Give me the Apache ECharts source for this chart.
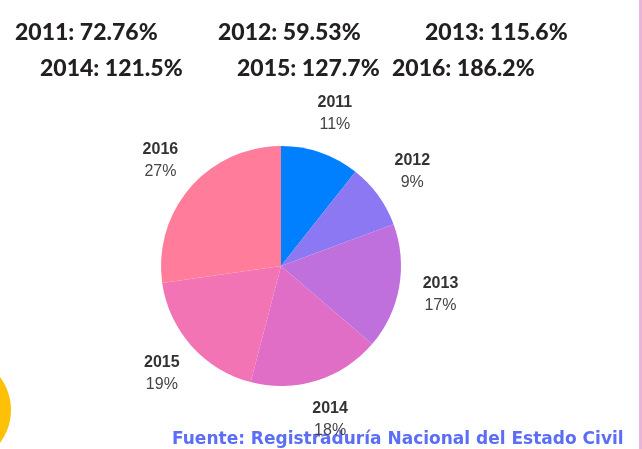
<!DOCTYPE html>
<html>
<head>
<meta charset="utf-8">
<script src="https://cdn.jsdelivr.net/npm/echarts@6/dist/echarts.min.js"></script>
<style>
html,body{margin:0;padding:0;background:#fff;}
#main{width:642px;height:449px;}
</style>
</head>
<body>
<div id="main"></div>
<script>
// datos
var years = ['2011','2012','2013','2014','2015','2016'];
var values = [72.76, 59.53, 115.6, 121.5, 127.7, 186.2];
var valueText = ['72.76%','59.53%','115.6%','121.5%','127.7%','186.2%'];
var colors = ['#0080ff','#8b78f2','#bf70dd','#e06dc6','#f274b4','#ff7d9b'];

var fuente = 'Fuente: Registraduría Nacional del Estado Civil';

var chart = echarts.init(document.getElementById('main'));

var pieData = [];
for (var i = 0; i < years.length; i++) {
    pieData.push({name: years[i], value: values[i], itemStyle: {color: colors[i]}});
}

// encabezado en dos filas
var headPos = [[15,33],[218,33],[425,33],[40,69],[237,69],[392,69]];
var graphics = [];
for (var i = 0; i < years.length; i++) {
    graphics.push({
        type: 'text',
        x: headPos[i][0],
        y: headPos[i][1],
        style: {
            text: years[i] + ': ' + valueText[i],
            font: '900 23px Lato',
            fill: '#231f20',
            textVerticalAlign: 'middle'
        }
    });
}
graphics.push({
    type: 'text', x: 172, y: 440,
    style: {text: fuente, font: 'bold 17px "DejaVu Sans"', fill: '#5b6ef5', textVerticalAlign: 'middle'}
});
graphics.push({
    type: 'circle', shape: {cx: -44, cy: 410, r: 55},
    style: {fill: '#ffc107'}
});
graphics.push({
    type: 'rect', shape: {x: 639, y: 0, width: 3, height: 449},
    style: {fill: '#e8b4d8'}
});

var option = {
    backgroundColor: '#fff',
    animation: false,
    graphic: graphics,
    series: [
        {
            type: 'pie',
            center: [281, 266],
            radius: 120,
            startAngle: 90,
            clockwise: true,
            silent: true,
            label: {show: false},
            labelLine: {show: false},
            data: pieData
        },
        {
            // anillo invisible solo para colocar las etiquetas
            type: 'pie',
            center: [282, 266],
            radius: [138, 178],
            startAngle: 90,
            clockwise: true,
            silent: true,
            itemStyle: {color: 'rgba(0,0,0,0)'},
            label: {
                show: true,
                position: 'inside',
                formatter: function (p) {
                    return '{n|' + p.name + '}\n{p|' + Math.round(p.percent) + '%}';
                },
                rich: {
                    n: {fontFamily: 'Liberation Sans', fontWeight: 'bold', fontSize: 16, color: '#333', lineHeight: 22},
                    p: {fontFamily: 'Liberation Sans', fontSize: 16, color: '#444', lineHeight: 22}
                }
            },
            labelLine: {show: false},
            data: years.map(function (y, i) { return {name: y, value: values[i]}; })
        }
    ]
};

chart.setOption(option);
</script>
</body>
</html>
